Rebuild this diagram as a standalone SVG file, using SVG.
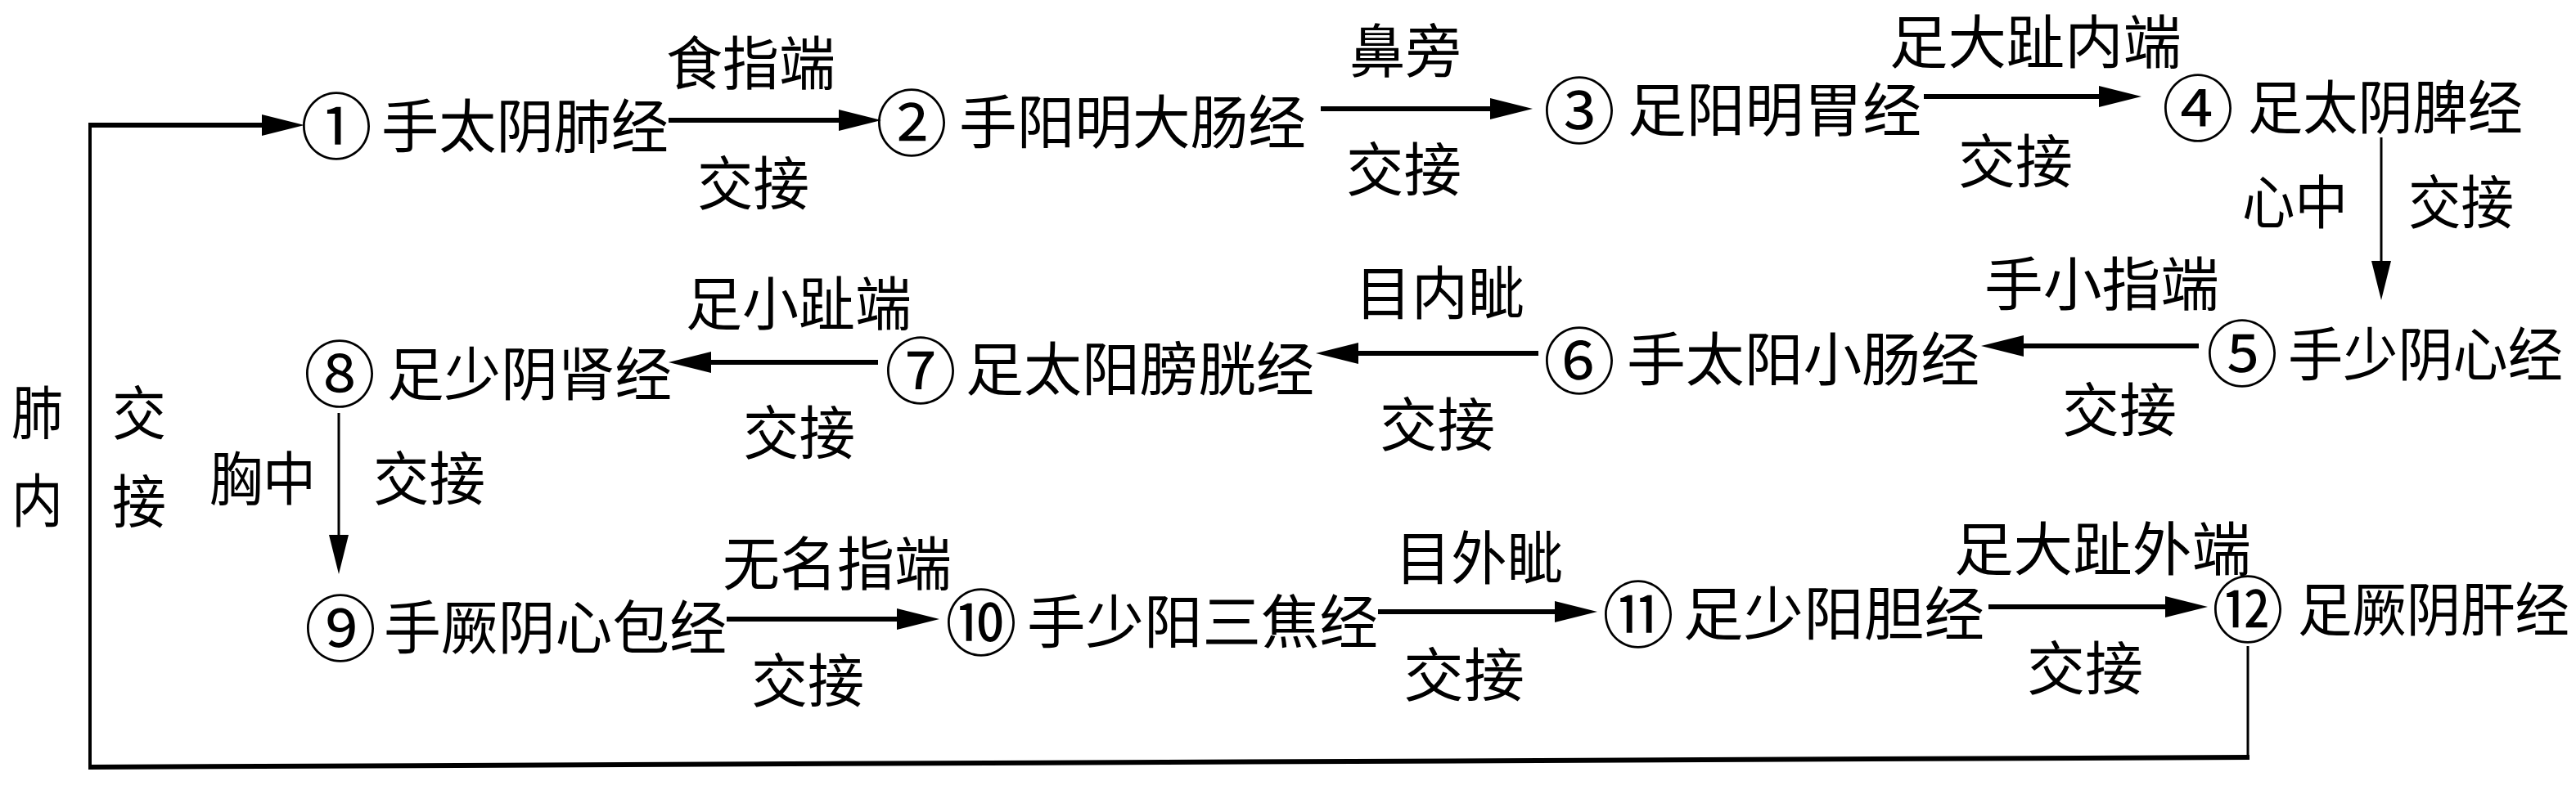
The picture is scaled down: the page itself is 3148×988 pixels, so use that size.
<svg xmlns="http://www.w3.org/2000/svg" width="3148" height="988" viewBox="0 0 3148 988">
<style>
text{font-family:"Noto Sans CJK SC","Noto Sans CJK JP",sans-serif;font-size:71px;fill:#000;dominant-baseline:central}
text.num{text-anchor:middle;font-size:88px}
.h{stroke:#000;stroke-width:6;fill:none;marker-end:url(#ah)}
.v{stroke:#000;stroke-width:3;fill:none;marker-end:url(#av)}
.loop{stroke:#000;fill:none}
</style>
<defs>
<marker id="ah" markerUnits="userSpaceOnUse" viewBox="0 -14 52 28" markerWidth="52" markerHeight="28" refX="0" refY="0" orient="auto"><path d="M0,-13 L52,0 L0,13 z" fill="#000"/></marker>
<marker id="av" markerUnits="userSpaceOnUse" viewBox="0 -13 48 26" markerWidth="48" markerHeight="26" refX="0" refY="0" orient="auto"><path d="M0,-12 L48,0 L0,12 z" fill="#000"/></marker>
</defs>
<rect width="3148" height="988" fill="#fff"/>
<g id="connectors">
<line class="loop" stroke-width="3" x1="2747" y1="790" x2="2747" y2="927"/>
<line class="loop" stroke-width="6" x1="2749" y1="926" x2="108" y2="938"/>
<line class="loop" stroke-width="4" x1="110" y1="940" x2="110" y2="151"/>
<line class="h" x1="108" y1="153" x2="320" y2="153"/>
<line class="h" x1="817" y1="147" x2="1025" y2="147"/>
<line class="h" x1="1614" y1="133" x2="1821" y2="133"/>
<line class="h" x1="2351" y1="118" x2="2565" y2="118"/>
<line class="v" x1="2910" y1="168" x2="2910" y2="319"/>
<line class="h" x1="2687" y1="423" x2="2473" y2="423"/>
<line class="h" x1="1880" y1="432" x2="1660" y2="432"/>
<line class="h" x1="1073" y1="443" x2="869" y2="443"/>
<line class="v" x1="414" y1="505" x2="414" y2="654"/>
<line class="h" x1="888" y1="757" x2="1096" y2="757"/>
<line class="h" x1="1684" y1="748" x2="1900" y2="748"/>
<line class="h" x1="2430" y1="742" x2="2646" y2="742"/>
<text x="814" y="72" textLength="207" lengthAdjust="spacingAndGlyphs">食指端</text>
<text x="852" y="219" textLength="137" lengthAdjust="spacingAndGlyphs">交接</text>
<text x="1649" y="57" textLength="137" lengthAdjust="spacingAndGlyphs">鼻旁</text>
<text x="1645" y="202" textLength="141" lengthAdjust="spacingAndGlyphs">交接</text>
<text x="2309" y="46" textLength="357" lengthAdjust="spacingAndGlyphs">足大趾内端</text>
<text x="2393" y="192" textLength="140" lengthAdjust="spacingAndGlyphs">交接</text>
<text x="2740" y="242" textLength="129" lengthAdjust="spacingAndGlyphs">心中</text>
<text x="2943" y="242" textLength="129" lengthAdjust="spacingAndGlyphs">交接</text>
<text x="2425" y="342" textLength="287" lengthAdjust="spacingAndGlyphs">手小指端</text>
<text x="2520" y="496" textLength="140" lengthAdjust="spacingAndGlyphs">交接</text>
<text x="1656" y="353" textLength="207" lengthAdjust="spacingAndGlyphs">目内眦</text>
<text x="1686" y="514" textLength="141" lengthAdjust="spacingAndGlyphs">交接</text>
<text x="838" y="366" textLength="276" lengthAdjust="spacingAndGlyphs">足小趾端</text>
<text x="908" y="524" textLength="137" lengthAdjust="spacingAndGlyphs">交接</text>
<text x="256" y="580" textLength="130" lengthAdjust="spacingAndGlyphs">胸中</text>
<text x="456" y="580" textLength="137" lengthAdjust="spacingAndGlyphs">交接</text>
<text x="14" y="499" textLength="63" lengthAdjust="spacingAndGlyphs">肺</text>
<text x="14" y="607" textLength="63" lengthAdjust="spacingAndGlyphs">内</text>
<text x="137" y="500" textLength="66" lengthAdjust="spacingAndGlyphs">交</text>
<text x="137" y="608" textLength="66" lengthAdjust="spacingAndGlyphs">接</text>
<text x="883" y="684" textLength="280" lengthAdjust="spacingAndGlyphs">无名指端</text>
<text x="918" y="827" textLength="138" lengthAdjust="spacingAndGlyphs">交接</text>
<text x="1705" y="677" textLength="205" lengthAdjust="spacingAndGlyphs">目外眦</text>
<text x="1715" y="820" textLength="148" lengthAdjust="spacingAndGlyphs">交接</text>
<text x="2388" y="666" textLength="363" lengthAdjust="spacingAndGlyphs">足大趾外端</text>
<text x="2477" y="812" textLength="142" lengthAdjust="spacingAndGlyphs">交接</text>
</g>
<g id="n1"><text class="num" x="411" y="148">①</text><text x="466" y="149" textLength="351" lengthAdjust="spacingAndGlyphs">手太阴肺经</text></g>
<g id="n2"><text class="num" x="1114" y="144">②</text><text x="1172" y="144" textLength="424" lengthAdjust="spacingAndGlyphs">手阳明大肠经</text></g>
<g id="n3"><text class="num" x="1930" y="129">③</text><text x="1989" y="129" textLength="359" lengthAdjust="spacingAndGlyphs">足阳明胃经</text></g>
<g id="n4"><text class="num" x="2686" y="126">④</text><text x="2747" y="126" textLength="336" lengthAdjust="spacingAndGlyphs">足太阴脾经</text></g>
<g id="n5"><text class="num" x="2740" y="426">⑤</text><text x="2796" y="428" textLength="336" lengthAdjust="spacingAndGlyphs">手少阴心经</text></g>
<g id="n6"><text class="num" x="1930" y="435">⑥</text><text x="1988" y="434" textLength="431" lengthAdjust="spacingAndGlyphs">手太阳小肠经</text></g>
<g id="n7"><text class="num" x="1125" y="447">⑦</text><text x="1180" y="446" textLength="426" lengthAdjust="spacingAndGlyphs">足太阳膀胱经</text></g>
<g id="n8"><text class="num" x="415" y="451">⑧</text><text x="473" y="452" textLength="348" lengthAdjust="spacingAndGlyphs">足少阴肾经</text></g>
<g id="n9"><text class="num" x="416" y="762">⑨</text><text x="469" y="762" textLength="419" lengthAdjust="spacingAndGlyphs">手厥阴心包经</text></g>
<g id="n10"><text class="num" x="1199" y="755">⑩</text><text x="1255" y="755" textLength="429" lengthAdjust="spacingAndGlyphs">手少阳三焦经</text></g>
<g id="n11"><text class="num" x="2002" y="745">⑪</text><text x="2057" y="745" textLength="368" lengthAdjust="spacingAndGlyphs">足少阳胆经</text></g>
<g id="n12"><text class="num" x="2747" y="739">⑫</text><text x="2808" y="740" textLength="332" lengthAdjust="spacingAndGlyphs">足厥阴肝经</text></g>
</svg>
